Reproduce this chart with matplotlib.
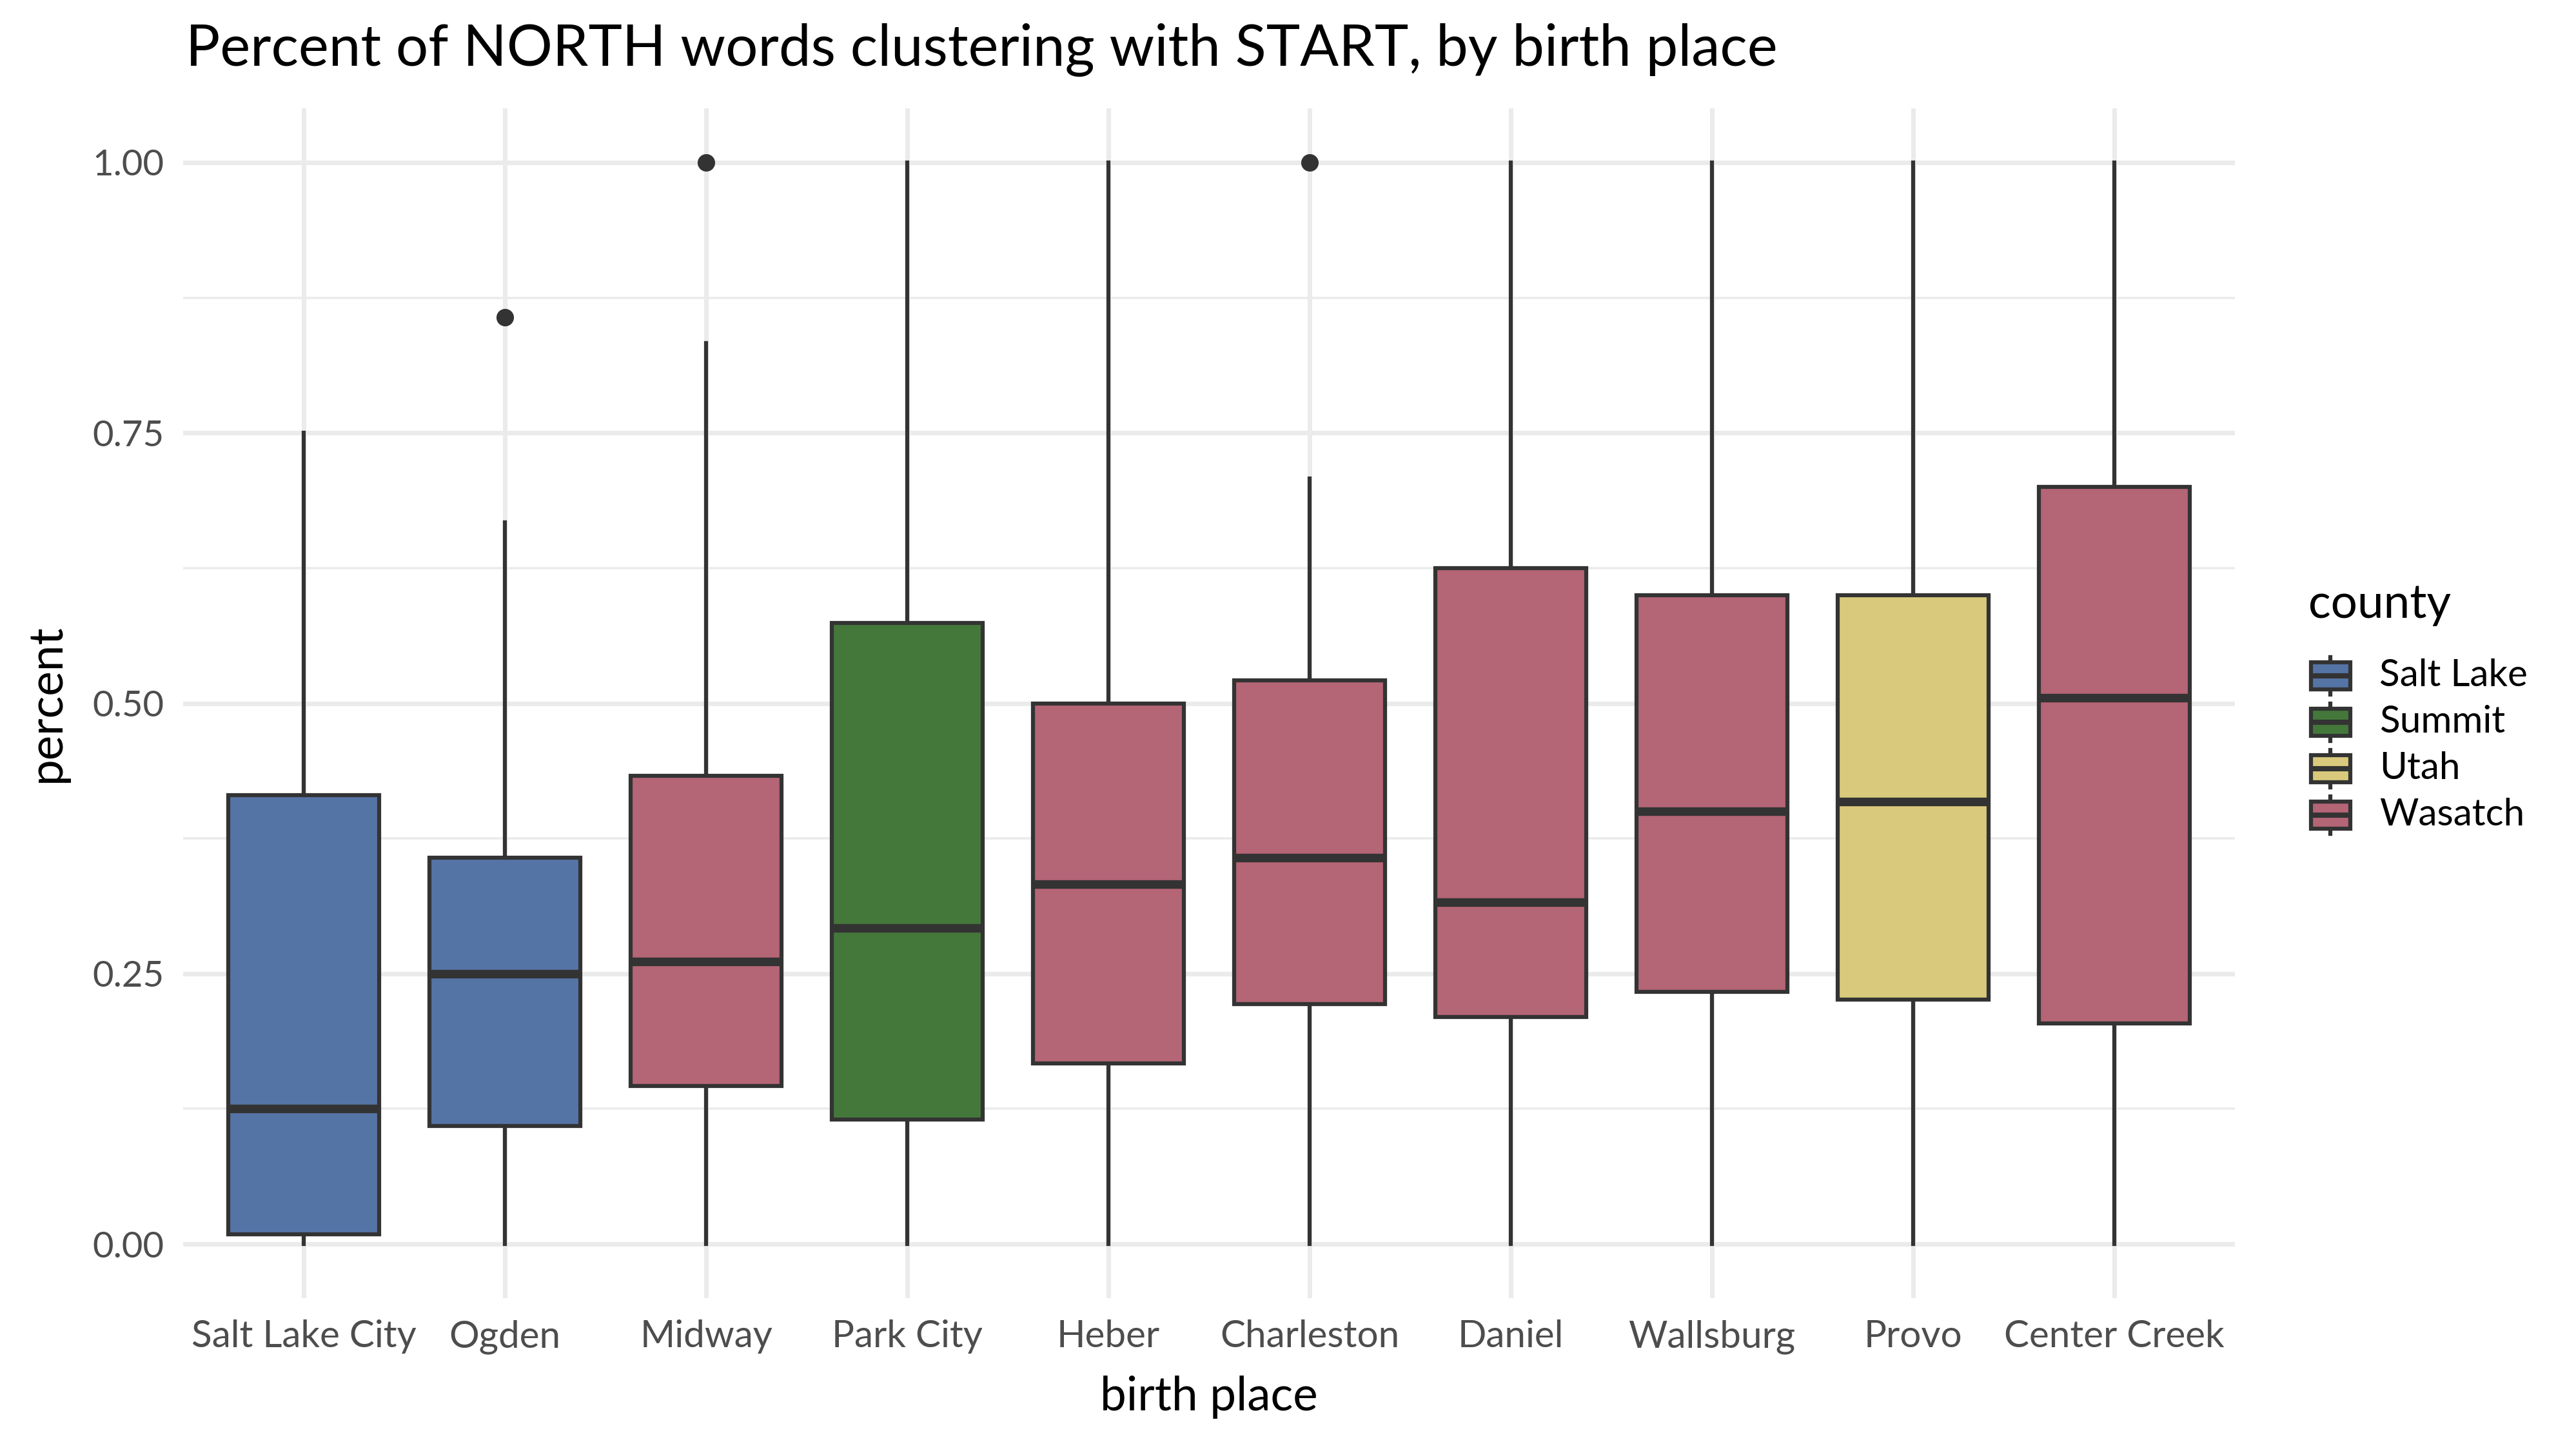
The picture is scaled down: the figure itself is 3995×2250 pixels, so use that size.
import matplotlib
matplotlib.use("Agg")
import matplotlib.pyplot as plt
from matplotlib.patches import Rectangle
from matplotlib.ticker import MultipleLocator

plt.rcParams['font.family'] = ['Lato', 'DejaVu Sans']

# values
places = ['Salt Lake City', 'Ogden', 'Midway', 'Park City', 'Heber',
          'Charleston', 'Daniel', 'Wallsburg', 'Provo', 'Center Creek']
county = ['Salt Lake', 'Salt Lake', 'Wasatch', 'Summit', 'Wasatch',
          'Wasatch', 'Wasatch', 'Wasatch', 'Utah', 'Wasatch']
whislo = [0.0, 0.0, 0.0, 0.0, 0.0, 0.0, 0.0, 0.0, 0.0, 0.0]
q1 = [0.009, 0.109, 0.146, 0.115, 0.167, 0.222, 0.210, 0.233, 0.226, 0.204]
med = [0.125, 0.250, 0.261, 0.292, 0.333, 0.357, 0.316, 0.400, 0.409, 0.505]
q3 = [0.415, 0.357, 0.433, 0.574, 0.500, 0.521, 0.625, 0.600, 0.600, 0.700]
whishi = [0.750, 0.667, 0.833, 1.0, 1.0, 0.708, 1.0, 1.0, 1.0, 1.0]
fliers = [[], [0.857], [1.0], [], [], [1.0], [], [], [], []]

counties = ['Salt Lake', 'Summit', 'Utah', 'Wasatch']
county_colors = {'Salt Lake': '#5574a6', 'Summit': '#44783b',
                 'Utah': '#d9c97c', 'Wasatch': '#b46576'}

W, H = 3995, 2250
fig = plt.figure(figsize=(W / 300, H / 300), dpi=300)
ax = fig.add_axes([284 / W, 1 - 2013 / H, (3466 - 284) / W, (2013 - 168) / H])

dark = '#333333'
lw = 1.5
stats = []
for i in range(len(places)):
    stats.append(dict(label=places[i], whislo=whislo[i], q1=q1[i], med=med[i],
                      q3=q3[i], whishi=whishi[i], fliers=fliers[i]))

pos = list(range(1, len(places) + 1))
bp = ax.bxp(stats, positions=pos, widths=0.75, patch_artist=True, showcaps=False,
            boxprops=dict(edgecolor=dark, linewidth=lw),
            whiskerprops=dict(color=dark, linewidth=lw),
            medianprops=dict(color=dark, linewidth=3.2, solid_capstyle='butt'),
            flierprops=dict(marker='o', markerfacecolor=dark, markeredgecolor=dark,
                            markersize=5.5))
for patch, c in zip(bp['boxes'], county):
    patch.set_facecolor(county_colors[c])
    patch.set_zorder(3)
for ln in bp['medians']:
    ln.set_zorder(4)

ax.set_xlim(0.4, len(places) + 0.6)
ax.set_ylim(-0.05, 1.05)
ax.yaxis.set_minor_locator(MultipleLocator(0.125))
ax.set_yticks([0, 0.25, 0.5, 0.75, 1.0])
ax.set_yticklabels(['0.00', '0.25', '0.50', '0.75', '1.00'])
ax.set_xticks(pos)
ax.set_xticklabels(places)

ax.grid(which='major', color='#ebebeb', linewidth=1.7, zorder=0)
ax.grid(which='minor', axis='y', color='#ebebeb', linewidth=0.85, zorder=0)
ax.set_axisbelow(True)
for s in ax.spines.values():
    s.set_visible(False)
ax.tick_params(which='both', length=0)
ax.tick_params(axis='x', labelsize=14, labelcolor='#4d4d4d', pad=8)
ax.tick_params(axis='y', labelsize=13.5, labelcolor='#4d4d4d', pad=7)

ax.set_xlabel('birth place', fontsize=17.5, labelpad=8)
ax.set_ylabel('percent', fontsize=17.5, labelpad=9)

fig.text(288 / W, 1 - 102 / H,
         'Percent of NORTH words clustering with START, by birth place',
         fontsize=21.3, va='baseline', ha='left')

# legend drawn in pixel coordinates
lg = fig.add_axes([0, 0, 1, 1], zorder=5)
lg.set_xlim(0, W)
lg.set_ylim(H, 0)
lg.axis('off')
lg.text(3580, 958, 'county', fontsize=17.5, va='baseline', ha='left')
for k, name in enumerate(counties):
    cy = 1048 + k * 72
    lg.plot([3614, 3614], [cy - 29, cy + 29], color=dark, linewidth=lw, zorder=1)
    lg.add_patch(Rectangle((3584, cy - 21), 61, 42, facecolor=county_colors[name],
                           edgecolor=dark, linewidth=lw, zorder=2))
    lg.plot([3584, 3645], [cy, cy], color=dark, linewidth=lw * 1.3, zorder=3,
            solid_capstyle='butt')
    lg.text(3690, cy, name, fontsize=14, va='center', ha='left')

fig.savefig('out.png', dpi=300, facecolor='white')
